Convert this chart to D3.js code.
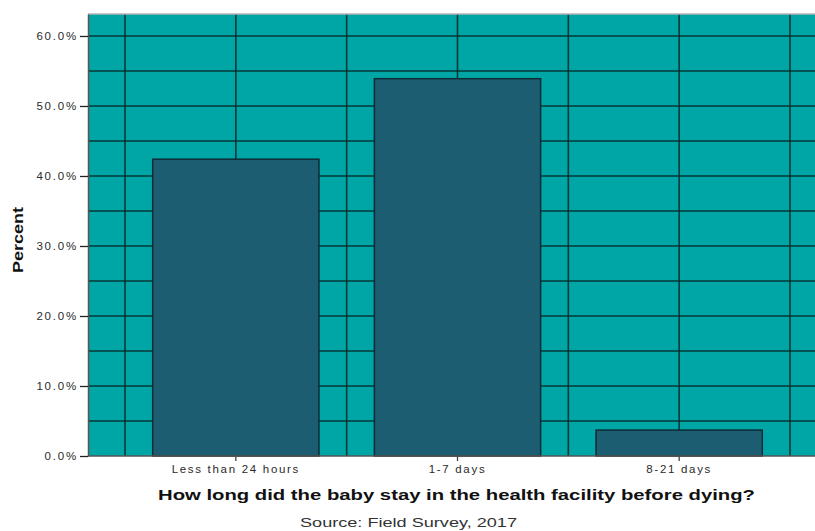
<!DOCTYPE html>
<html>
<head>
<meta charset="utf-8">
<script src="https://cdn.jsdelivr.net/npm/d3@7"></script>
<style>
  body { margin: 0; background: #fff; }
  text { font-family: "Liberation Sans", Arial, sans-serif; }
</style>
</head>
<body>
<svg id="chart" width="815" height="531"></svg>
<script>
const categories = ["Less than 24 hours", "1-7 days", "8-21 days"];
const percents = [42.4, 53.9, 3.7];
const yTicks = [0, 10, 20, 30, 40, 50, 60];
const yGrid = [5, 10, 15, 20, 25, 30, 35, 40, 45, 50, 55, 60];

const data = categories.map((c, i) => ({ category: c, value: percents[i] }));

const plot = { left: 88, top: 14, right: 827, bottom: 456 };

const svg = d3.select("#chart");

const xScale = d3.scaleBand()
    .domain(categories)
    .range([125, 790])
    .paddingInner(0.25)
    .paddingOuter(0.125);

const yScale = d3.scaleLinear()
    .domain([0, 63.14])
    .range([plot.bottom, plot.top]);

const step = xScale.step();
const center = c => xScale(c) + xScale.bandwidth() / 2;

// plot background
svg.append("rect")
    .attr("x", plot.left)
    .attr("y", plot.top)
    .attr("width", plot.right - plot.left)
    .attr("height", plot.bottom - plot.top)
    .attr("fill", "#00a6a5");

// grid
const grid = svg.append("g").attr("stroke", "#062b2b").attr("stroke-width", 1.6).attr("stroke-opacity", 0.9);

grid.selectAll(".hgrid")
    .data(yGrid)
    .enter().append("line")
    .attr("x1", plot.left)
    .attr("x2", plot.right)
    .attr("y1", d => yScale(d))
    .attr("y2", d => yScale(d));

const vLines = [];
categories.forEach(c => {
    vLines.push(center(c) - step / 2);
    vLines.push(center(c));
});
vLines.push(center(categories[categories.length - 1]) + step / 2);

grid.selectAll(".vgrid")
    .data(vLines)
    .enter().append("line")
    .attr("x1", d => d)
    .attr("x2", d => d)
    .attr("y1", plot.top)
    .attr("y2", plot.bottom);

// bars
svg.selectAll(".bar")
    .data(data)
    .enter().append("rect")
    .attr("class", "bar")
    .attr("x", d => xScale(d.category))
    .attr("y", d => yScale(d.value))
    .attr("width", xScale.bandwidth())
    .attr("height", d => plot.bottom - yScale(d.value))
    .attr("fill", "#1c5d72")
    .attr("stroke", "#0d2c36")
    .attr("stroke-width", 1.5);

// frame
svg.append("line")
    .attr("x1", plot.left).attr("x2", plot.right)
    .attr("y1", plot.top).attr("y2", plot.top)
    .attr("stroke", "#b5b5b5").attr("stroke-width", 1.5);

// y axis
const yAxis = svg.append("g")
    .attr("transform", `translate(${plot.left},0)`)
    .call(d3.axisLeft(yScale).tickValues(yTicks).tickFormat(d => d.toFixed(1) + "%").tickSize(8).tickSizeOuter(0));
yAxis.select(".domain").attr("stroke", "#555").attr("stroke-width", 1.5);
yAxis.selectAll(".tick line").attr("stroke", "#222").attr("stroke-width", 1.3);
yAxis.selectAll(".tick text")
    .attr("x", -10)
    .attr("fill", "#2a2a2a")
    .style("font-size", "11.5px")
    .style("letter-spacing", "1.8px");

// x axis
const xAxis = svg.append("g")
    .attr("transform", `translate(0,${plot.bottom})`)
    .call(d3.axisBottom(xScale).tickSize(5).tickSizeOuter(0));
xAxis.select(".domain").remove();
xAxis.append("line")
    .attr("x1", plot.left).attr("x2", plot.right)
    .attr("stroke", "#555").attr("stroke-width", 1.5);
xAxis.selectAll(".tick line").attr("stroke", "#444").attr("stroke-width", 1.3);
xAxis.selectAll(".tick text")
    .attr("y", 9)
    .attr("fill", "#2a2a2a")
    .style("font-size", "11.5px")
    .style("letter-spacing", "1.7px");

// axis titles
svg.append("text")
    .attr("transform", "translate(23,240) rotate(-90)")
    .attr("text-anchor", "middle")
    .attr("textLength", 66)
    .attr("lengthAdjust", "spacingAndGlyphs")
    .style("font-size", "15px")
    .style("font-weight", "bold")
    .attr("fill", "#111")
    .text("Percent");

svg.append("text")
    .attr("x", 456.5)
    .attr("y", 500)
    .attr("text-anchor", "middle")
    .attr("textLength", 597)
    .attr("lengthAdjust", "spacingAndGlyphs")
    .style("font-size", "15px")
    .style("font-weight", "bold")
    .attr("fill", "#111")
    .text("How long did the baby stay in the health facility before dying?");

svg.append("text")
    .attr("x", 408.5)
    .attr("y", 527)
    .attr("text-anchor", "middle")
    .attr("textLength", 217)
    .attr("lengthAdjust", "spacingAndGlyphs")
    .style("font-size", "13.5px")
    .attr("fill", "#333")
    .text("Source: Field Survey, 2017");
</script>
</body>
</html>
